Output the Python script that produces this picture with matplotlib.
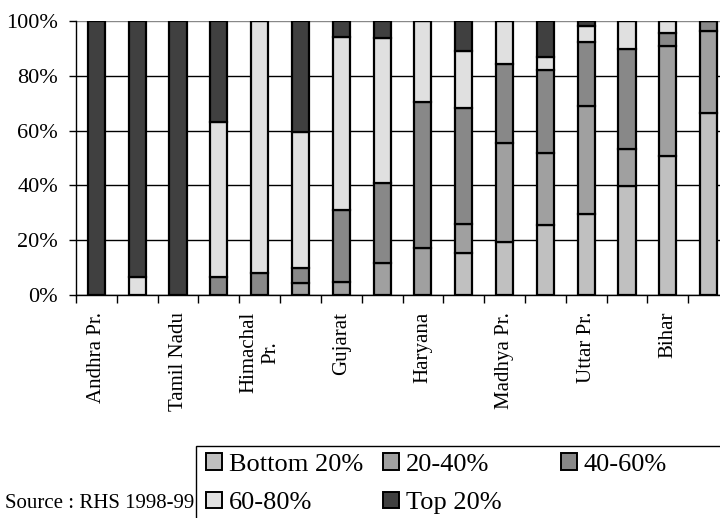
import numpy as np
import matplotlib
matplotlib.use("Agg")
import matplotlib.pyplot as plt
from matplotlib.patches import Patch, Rectangle

plt.rcParams['font.family'] = ['Liberation Serif', 'DejaVu Serif']

states = ["Andhra Pr.", "", "Tamil Nadu", "", "Himachal\nPr.", "", "Gujarat", "",
          "Haryana", "", "Madhya Pr.", "", "Uttar Pr.", "", "Bihar", ""]

series = ["Bottom 20%", "20-40%", "40-60%", "60-80%", "Top 20%"]
colors = ["#c0c0c0", "#a0a0a0", "#888888", "#e0e0e0", "#404040"]

# share (%) of each quintile, per bar
bottom20 = [0, 0, 0, 0, 0, 0, 0, 0, 0, 15.2, 19.5, 25.5, 29.4, 39.8, 50.9, 66.3]
q20_40 = [0, 0, 0, 0, 0, 4.5, 4.9, 11.6, 17.0, 10.7, 36.1, 26.2, 39.6, 13.4, 39.8, 30.2]
q40_60 = [0, 0, 0, 6.4, 7.9, 5.2, 26.1, 29.4, 53.6, 42.2, 28.6, 30.4, 23.5, 36.5, 4.9, 3.5]
q60_80 = [0, 6.7, 0, 56.6, 92.1, 49.9, 63.3, 52.7, 29.4, 21.0, 15.8, 4.6, 5.7, 10.3, 4.4, 0]
top20 = [100, 93.3, 100, 37.0, 0, 40.4, 5.7, 6.3, 0, 10.9, 0, 13.3, 1.8, 0, 0, 0]

W, H = 720, 518
fig = plt.figure(figsize=(W / 100, H / 100), dpi=100)
ax = fig.add_axes([76 / W, 223 / H, 653 / W, 274 / H])

x = np.arange(len(states))
data = [bottom20, q20_40, q40_60, q60_80, top20]
base = np.zeros(len(states))
handles = []
for vals, name, col in zip(data, series, colors):
    vals = np.array(vals)
    ax.bar(x, vals, bottom=base, width=0.42, color=col, edgecolor='black',
           linewidth=1.6, zorder=3)
    base += vals
    handles.append(Patch(facecolor=col, edgecolor='black', linewidth=1.4))

ax.set_xlim(-0.5, len(states) - 0.5)
ax.set_ylim(0, 100)

ax.set_yticks(np.arange(0, 101, 20))
ax.set_yticklabels([f"{v}%" for v in range(0, 101, 20)], fontsize=16)
ax.tick_params(axis='y', length=5, width=1, pad=8, color='black')

ax.set_xticks(x)
ax.set_xticklabels(states, rotation=90, fontsize=15, va='top', ha='center',
                   multialignment='center')
ax.tick_params(axis='x', which='major', length=0, pad=12)
ax.set_xticks(np.arange(-0.5, len(states), 1), minor=True)
ax.tick_params(axis='x', which='minor', length=6, width=1, color='black')

ax.yaxis.grid(True, color='black', linewidth=1, zorder=0)
ax.get_ygridlines()[-1].set_color('#888888')
ax.set_axisbelow(True)
for s in ['top', 'right']:
    ax.spines[s].set_visible(False)
ax.spines['left'].set_linewidth(1)
ax.spines['bottom'].set_linewidth(1)

# legend laid out in Excel-style fixed columns
cols = [[0, 3], [1, 4], [2]]
col_x = [206, 383, 561]
for cx, idx in zip(col_x, cols):
    fig.legend([handles[i] for i in idx], [series[i] for i in idx],
               loc='upper left', bbox_to_anchor=(cx / W, 1 - 453 / H),
               frameon=False, fontsize=19, handlelength=0.6, handleheight=0.6,
               handletextpad=0.27, labelspacing=0.6, borderpad=0, borderaxespad=0)
fig.patches.append(Rectangle((196 / W, -0.1), 0.8, (H - 446) / H + 0.1,
                             transform=fig.transFigure, fill=False,
                             edgecolor='black', linewidth=1))

fig.text(5 / W, 1 - 503 / H, "Source : RHS 1998-99", fontsize=15, va='center')

fig.savefig("out.png", dpi=100)
